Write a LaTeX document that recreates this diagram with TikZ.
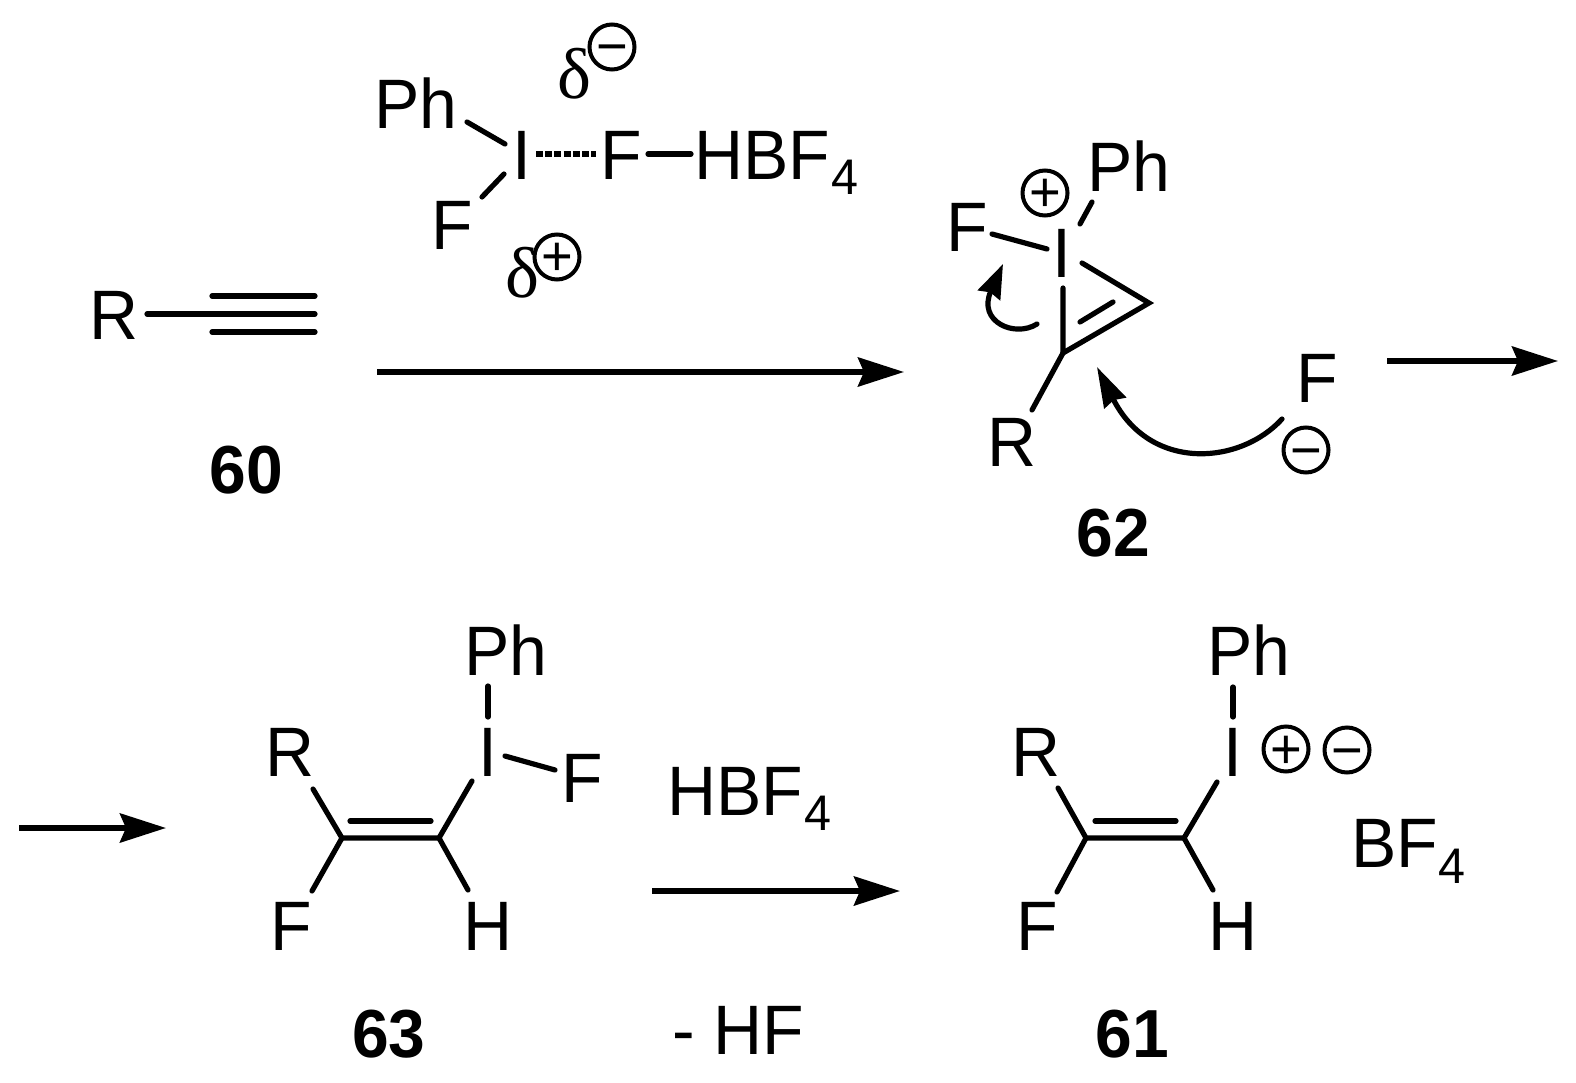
\documentclass[tikz,border=0pt]{standalone}
\usepackage{fontspec}
\setmainfont[FakeStretch=0.97]{Liberation Sans}
\newfontfamily\deltafont{Liberation Serif}
\usetikzlibrary{arrows.meta}
\tikzset{
  atom/.style={inner sep=0pt,outer sep=0pt,anchor=base west,font=\fontsize{70}{70}\selectfont},
  atomc/.style={atom,anchor=base},
  subs/.style={inner sep=0pt,outer sep=0pt,anchor=base west,font=\fontsize{50}{50}\selectfont},
  cmpd/.style={inner sep=0pt,outer sep=0pt,anchor=base,font=\fontsize{68}{68}\selectfont\bfseries},
  dlt/.style={inner sep=0pt,outer sep=0pt,anchor=base west,font=\fontsize{72}{72}\selectfont\deltafont},
  bond/.style={line width=5.2pt,line cap=round},
  rxn/.style={line width=5.6pt,-{Stealth[length=46pt,width=29pt,inset=6pt]}},
  curlA/.style={line width=5.2pt,line cap=round,-{Stealth[length=34pt,width=24pt,inset=3pt]}},
  curlB/.style={line width=5.2pt,line cap=round,-{Stealth[length=40pt,width=24pt,inset=3pt]}},
  ring/.style={circle,draw,line width=4pt,minimum size=45pt,inner sep=0pt},
  sign/.style={inner sep=0pt,outer sep=0pt,anchor=base,font=\fontsize{56}{56}\selectfont}
}
\newcommand{\chg}[4]{%
  \node[ring] (#1) at (#2,#3) {};
  \node[sign] at (#2,#3+19) {#4};}
\begin{document}
\begin{tikzpicture}[x=1pt,y=-1pt]
\fill[white] (0,0) rectangle (1576,1083);
\useasboundingbox (0,0) rectangle (1576,1083);

% 60
\node[atom] (r60) at (89.5,339.5) {R};
\coordinate (c60) at (212,314);
\coordinate (c60e) at (315,314);
\draw[bond] (147,314) -- (c60e);
\draw[bond] (212,296) -- (315,296);
\draw[bond] (212,332) -- (315,332);
\node[cmpd] (n60) at (246.5,493) {60};

% reagent
\node[atom] (phr) at (374.5,129) {Ph};
\node[atomc] (ir) at (522,180) {I};
\node[atom] (fr1) at (431.5,250) {F};
\node[atom] (fr2) at (600.5,180) {F};
\node[atom] (hbf) at (694.5,180) {HBF};
\node[subs] (hbf4) at (831,195) {4};
\draw[bond] (467,122) -- (505,144);
\draw[bond] (504,174) -- (482,197);
\draw[line width=5.2pt,dash pattern=on 7pt off 2.2pt] (536,154) -- (596,154);
\draw[bond] (648,154) -- (691,154);
\node[dlt] (d1) at (557,99) {δ};
\chg{cm1}{612}{47}{−}
\node[dlt] (d2) at (505,298) {δ};
\chg{cp1}{557}{257}{+}

% arrow 1
\coordinate (a1s) at (377,372);
\coordinate (a1e) at (904,372);
\draw[rxn] (a1s) -- (a1e);

% 62
\node[atom] (ph62) at (1087.5,192) {Ph};
\chg{cp62}{1045}{193}{+}
\node[atom] (f62) at (946.5,252) {F};
\node[atomc] (i62) at (1062,278) {I};
\node[atom] (r62) at (987.5,466) {R};
\coordinate (c62a) at (1063,353);
\coordinate (c62b) at (1149,303);
\draw[bond] (1092,202) -- (1080,224);
\draw[bond] (992,234) -- (1047,249);
\draw[bond,line join=miter] (1082,263) -- (c62b) -- (c62a) -- (1063,288);
\draw[bond] (1080,322) -- (1113,302);
\draw[bond] (c62a) -- (1032,410);
\draw[curlA] (1037,324) .. controls (1015,338) and (977,322) .. (1003,264);
\node[atom] (f62b) at (1296.5,402) {F};
\chg{cm62}{1306}{450}{−}
\draw[curlB] (1282,419) .. controls (1240,465) and (1150,472) .. (1097,367);
\node[cmpd] (n62) at (1113,556) {62};

% arrows 2 and 3
\coordinate (a2s) at (1387,361);
\coordinate (a2e) at (1558,361);
\draw[rxn] (a2s) -- (a2e);
\coordinate (a3s) at (19,828);
\coordinate (a3e) at (166,828);
\draw[rxn] (a3s) -- (a3e);

% 63
\node[atom] (ph63) at (464.5,675) {Ph};
\node[atomc] (i63) at (488,776) {I};
\node[atom] (fi63) at (561.5,802) {F};
\node[atom] (r63) at (265.5,776) {R};
\node[atom] (f63) at (270.5,950) {F};
\node[atom] (h63) at (463.5,950) {H};
\coordinate (c63a) at (342,838);
\coordinate (c63b) at (439,838);
\draw[bond] (488,686) -- (488,717);
\draw[bond] (505,756) -- (555,770);
\draw[bond] (313,789) -- (c63a) -- (c63b) -- (472,781);
\draw[bond] (c63a) -- (312,891);
\draw[bond] (c63b) -- (468,890);
\draw[bond] (350,821) -- (431,821);
\node[cmpd] (n63) at (389,1057) {63};

% arrow 4
\node[atom] (hbf2) at (667.5,815) {HBF};
\node[subs] (hbf24) at (804,830) {4};
\coordinate (a4s) at (652,891);
\coordinate (a4e) at (900,891);
\draw[rxn] (a4s) -- (a4e);
\node[atom] (hf) at (672,1054) {- HF};

% 61
\node[atom] (ph61) at (1207.5,675) {Ph};
\node[atomc] (i61) at (1232.5,776) {I};
\chg{cp61}{1286}{749}{+}
\chg{cm61}{1347}{750}{−}
\node[atom] (r61) at (1011.5,776) {R};
\node[atom] (f61) at (1016.5,950) {F};
\node[atom] (h61) at (1208.5,950) {H};
\node[atom] (bf) at (1351.5,867) {BF};
\node[subs] (bf4) at (1438,883) {4};
\coordinate (c61a) at (1086,838);
\coordinate (c61b) at (1184,838);
\draw[bond] (1233,687) -- (1233,717);
\draw[bond] (1058,788) -- (c61a) -- (c61b) -- (1217,782);
\draw[bond] (c61a) -- (1057,892);
\draw[bond] (c61b) -- (1213,890);
\draw[bond] (1095,821) -- (1176,821);
\node[cmpd] (n61) at (1132,1057) {61};
\end{tikzpicture}
\end{document}
